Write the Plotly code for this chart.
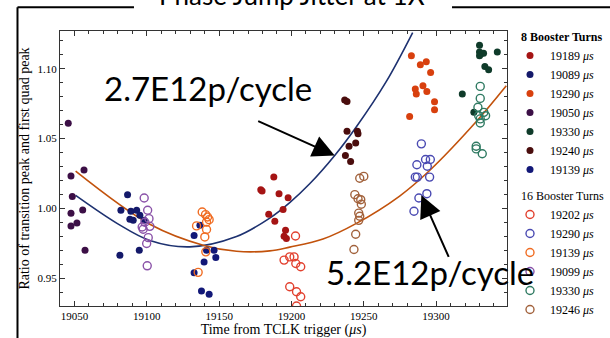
import plotly.graph_objects as go

# ---- measured ratios: 8 booster turns (filled markers) ----
t_19189 = [19187.8, 19178.8, 19179.7, 19191.4, 19197.7, 19184.3, 19194.2, 19188.5, 19195.9, 19194.9, 19196.5]
r_19189 = [1.0224, 1.0134, 1.0124, 1.0105, 1.0076, 0.9957, 0.9991, 0.9907, 0.9843, 0.9800, 0.9784]

t_19089 = [19086.7, 19082.1, 19089.0, 19088.3, 19090.6, 19093.0, 19095.2, 19098.2, 19094.8, 19081.4]
r_19089 = [1.0098, 0.9986, 0.9979, 0.9921, 0.9914, 0.9986, 0.9950, 0.9914, 0.9700, 0.9664]

t_19290 = [19282.9, 19289.1, 19293.2, 19296.2, 19290.9, 19285.6, 19286.3, 19293.6, 19298.9, 19298.9, 19281.7]
r_19290 = [1.1093, 1.1029, 1.1050, 1.0974, 1.0879, 1.0855, 1.0819, 1.0838, 1.0764, 1.0707, 1.0659]

t_19050 = [19045.7, 19047.6, 19056.6, 19048.5, 19047.6, 19055.7, 19047.6, 19051.7, 19057.3]
r_19050 = [1.0609, 1.0231, 1.0274, 1.0084, 0.9964, 0.9988, 0.9874, 0.9895, 0.9700]

t_19330 = [19330.0, 19330.0, 19330.7, 19332.8, 19330.0, 19342.3, 19333.7, 19336.3, 19318.1, 19326.1]
r_19330 = [1.1169, 1.1121, 1.1105, 1.1112, 1.1093, 1.1121, 1.1016, 1.0993, 1.0819, 1.0688]

t_19240 = [19236.8, 19238.4, 19238.4, 19245.6, 19246.0, 19244.4, 19239.8, 19237.3, 19240.9]
r_19240 = [1.0776, 1.0766, 1.0552, 1.0552, 1.0534, 1.0469, 1.0445, 1.0379, 1.0336]

t_19139 = [19132.7, 19136.7, 19141.3, 19146.5, 19139.6, 19147.7, 19132.7, 19137.8, 19143.1]
r_19139 = [0.9805, 0.9879, 0.9700, 0.9700, 0.9616, 0.9648, 0.9538, 0.9407, 0.9384]

# ---- measured ratios: 16 booster turns (open markers) ----
t16_19202 = [19202.8, 19194.9, 19198.8, 19201.8, 19203.0, 19206.4, 19198.8, 19203.5, 19206.4, 19203.5]
r16_19202 = [0.9802, 0.9629, 0.9652, 0.9652, 0.9605, 0.9581, 0.9438, 0.9402, 0.9366, 0.9300]

t16_19290 = [19289.8, 19286.7, 19292.7, 19296.0, 19293.9, 19285.6, 19287.0, 19295.5, 19288.1, 19293.6, 19284.7]
r16_19290 = [1.0462, 1.0312, 1.0350, 1.0350, 1.0302, 1.0224, 1.0224, 1.0224, 1.0074, 1.0105, 0.9979]

t16_19139 = [19138.3, 19140.6, 19142.0, 19143.1, 19141.3, 19134.4, 19141.3, 19140.1, 19140.8, 19135.5]
r16_19139 = [0.9974, 0.9955, 0.9938, 0.9919, 0.9902, 0.9874, 0.9848, 0.9795, 0.9688, 0.9541]

t16_19099 = [19098.2, 19100.6, 19101.5, 19096.8, 19097.5, 19102.1, 19101.0, 19099.9, 19100.3, 19098.7]
r16_19099 = [1.0074, 0.9986, 0.9926, 0.9866, 0.9850, 0.9871, 0.9790, 0.9748, 0.9588, 0.9900]

t16_19330 = [19330.5, 19330.5, 19328.9, 19333.0, 19329.4, 19334.2, 19330.5, 19330.5, 19327.7, 19327.7, 19331.9]
r16_19330 = [1.0874, 1.0788, 1.0724, 1.0688, 1.0664, 1.0664, 1.0641, 1.0612, 1.0445, 1.0426, 1.0391]

t16_19246 = [19247.2, 19250.0, 19243.8, 19246.0, 19247.9, 19248.3, 19246.5, 19247.2, 19246.5, 19244.4, 19243.2]
r16_19246 = [1.0216, 1.0229, 1.0098, 1.0069, 1.0062, 1.0029, 0.9966, 0.9943, 0.9914, 0.9814, 0.9705]

# ---- fitted trend curves ----
fit_hi_t = [19050.8, 19080.0, 19102.1, 19129.8, 19162.0, 19185.0, 19198.8, 19212.6, 19229.9, 19244.9, 19265.6, 19283.8]
fit_hi_r = [1.0093, 0.9889, 0.9770, 0.9724, 0.9798, 0.9930, 1.0041, 1.0176, 1.0379, 1.0585, 1.0910, 1.1260]

fit_lo_t = [19050.8, 19102.1, 19140.1, 19162.0, 19185.0, 19198.8, 19221.8, 19244.9, 19274.8, 19295.5, 19327.8, 19348.5]
fit_lo_r = [1.0266, 0.9886, 0.9732, 0.9692, 0.9695, 0.9722, 0.9780, 0.9892, 1.0088, 1.0271, 1.0622, 1.0878]

x_ticks = [19050, 19100, 19150, 19200, 19250, 19300]
y_ticks = [0.95, 1.00, 1.05, 1.10]

group8 = [
    ("19189", t_19189, r_19189, "#a51414"),
    ("19089", t_19089, r_19089, "#14196a"),
    ("19290", t_19290, r_19290, "#d8400e"),
    ("19050", t_19050, r_19050, "#3c0f46"),
    ("19330", t_19330, r_19330, "#0f3b2a"),
    ("19240", t_19240, r_19240, "#4a0d0d"),
    ("19139", t_19139, r_19139, "#121878"),
]
group16 = [
    ("19202", t16_19202, r16_19202, "#e2402e"),
    ("19290", t16_19290, r16_19290, "#4a4ab2"),
    ("19139", t16_19139, r16_19139, "#f06c22"),
    ("19099", t16_19099, r16_19099, "#8a52a8"),
    ("19330", t16_19330, r16_19330, "#2f7a62"),
    ("19246", t16_19246, r16_19246, "#a2623c"),
]

SERIF = "Liberation Serif"
SANS = "Lato"
NB = "\u00a0"

fig = go.Figure()

# trend curves first so the markers sit on top
fig.add_trace(go.Scatter(x=fit_hi_t, y=fit_hi_r, mode="lines", line=dict(color="#1d3170", width=1.6, shape="spline"),
                         showlegend=False, hoverinfo="skip"))
fig.add_trace(go.Scatter(x=fit_lo_t, y=fit_lo_r, mode="lines", line=dict(color="#c2520c", width=1.6, shape="spline"),
                         showlegend=False, hoverinfo="skip"))

for label, xs, ys, col in group8:
    fig.add_trace(go.Scatter(
        x=xs, y=ys, mode="markers", name=f"{label} <i>μs</i>",
        marker=dict(symbol="circle", size=7, color=col),
        legendgroup="g8", legendgrouptitle=dict(text=NB * 2 + "<b>8 Booster Turns</b>",
                                               font=dict(family=SERIF, size=12, color="black")),
    ))
for label, xs, ys, col in group16:
    fig.add_trace(go.Scatter(
        x=xs, y=ys, mode="markers", name=f"{label} <i>μs</i>",
        marker=dict(symbol="circle-open", size=8, color=col, line=dict(width=1.4, color=col)),
        legendgroup="g16", legendgrouptitle=dict(text=NB * 2 + "16 Booster Turns",
                                                font=dict(family=SERIF, size=12, color="black")),
    ))

axis_common = dict(
    showline=True, linecolor="#333333", linewidth=1, mirror="allticks",
    ticks="inside", ticklen=5, tickwidth=1, tickcolor="#333333",
    showgrid=False, zeroline=False,
    tickfont=dict(family=SERIF, size=11, color="black"),
)

fig.update_xaxes(
    range=[19040, 19349], tickvals=x_ticks, ticktext=[str(v) for v in x_ticks],
    minor=dict(dtick=10, tick0=19050, ticks="inside", ticklen=3, tickcolor="#333333"),
    title=dict(text="Time from TCLK trigger (<i>μs</i>)", font=dict(family=SERIF, size=14, color="black"), standoff=3),
    **axis_common,
)
fig.update_yaxes(
    range=[0.930, 1.1271], tickvals=y_ticks, ticktext=[f"{v:.2f}" for v in y_ticks],
    minor=dict(dtick=0.01, tick0=0.95, ticks="inside", ticklen=3, tickcolor="#333333"),
    title=dict(text="Ratio of transition peak and first quad peak", font=dict(family=SERIF, size=14, color="black"), standoff=4),
    **axis_common,
)

# slide-style frame around the figure with the heading in the gap
frame = dict(color="black", width=2)
fig.add_shape(type="line", xref="paper", yref="paper", x0=-0.0951, x1=0.1655, y0=1.0862, y1=1.0862, line=frame)
fig.add_shape(type="line", xref="paper", yref="paper", x0=0.877, x1=1.235, y0=1.0862, y1=1.0862, line=frame)
fig.add_shape(type="line", xref="paper", yref="paper", x0=-0.0951, x1=-0.0951, y0=1.0862, y1=-0.12, line=frame)

fig.add_annotation(xref="paper", yref="paper", x=0.518, y=1.067, yanchor="bottom", xanchor="center",
                   text="Phase Jump Jitter at 1X", showarrow=False,
                   font=dict(family=SANS, size=26, color="black"))

# intensity labels with pointers to each fit
fig.add_annotation(x=19229.9, y=1.0379, ax=-78, ay=-35, text="", showarrow=True,
                   arrowhead=2, arrowsize=2.2, arrowwidth=2, arrowcolor="black", standoff=0)
fig.add_annotation(x=19289.8, y=1.0093, ax=28, ay=63, text="", showarrow=True,
                   arrowhead=2, arrowsize=2.2, arrowwidth=2, arrowcolor="black", standoff=0)
fig.add_annotation(xref="paper", yref="paper", x=(208 - 60) / 447, y=(306 - 88) / 275, xanchor="center", yanchor="middle",
                   text="2.7E12p/cycle", showarrow=False, font=dict(family=SANS, size=33, color="black"))
fig.add_annotation(xref="paper", yref="paper", x=(430 - 60) / 447, y=(306 - 272) / 275, xanchor="center", yanchor="middle",
                   text="5.2E12p/cycle", showarrow=False, font=dict(family=SANS, size=33, color="black"))

fig.update_layout(
    width=610, height=338,
    margin=dict(l=60, r=103, t=31, b=32, autoexpand=False),
    paper_bgcolor="white", plot_bgcolor="white",
    legend=dict(x=(510 - 60) / 447, y=(306 - 22) / 275, xanchor="left", yanchor="top",
                font=dict(family=SERIF, size=12, color="black"), tracegroupgap=7,
                bgcolor="rgba(0,0,0,0)", itemwidth=30, maxheight=400),
)

fig.write_html("out.html")
